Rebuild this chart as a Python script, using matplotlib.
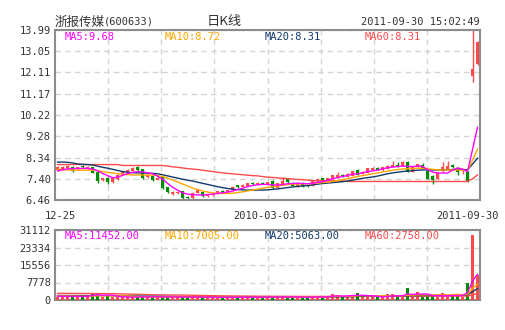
import matplotlib
matplotlib.use('Agg')
import matplotlib.pyplot as plt
import numpy as np

plt.rcParams['font.family'] = ['DejaVu Sans Mono', 'Noto Sans CJK SC']

# daily candles: open, close, high, low
opens = [7.80, 7.84, 7.86, 7.93, 7.84, 7.96, 7.88, 7.91, 7.68, 7.35,
         7.45, 7.25, 7.40, 7.62, 7.70, 7.75, 7.93, 7.82, 7.48, 7.52,
         7.36, 7.46, 7.02, 6.74, 6.76, 6.84, 6.60, 6.54, 6.79, 6.80,
         6.63, 6.66, 6.76, 6.87, 6.80, 6.90, 7.12, 7.04, 7.10, 7.20,
         7.16, 7.22, 7.18, 7.30, 6.99, 7.18, 7.39, 7.22, 7.10, 7.22,
         7.12, 7.10, 7.28, 7.42, 7.32, 7.38, 7.46, 7.58, 7.48, 7.54,
         7.80, 7.62, 7.66, 7.80, 7.88, 7.78, 7.84, 7.94, 8.00, 7.98,
         8.16, 7.72, 7.92, 8.00, 7.76, 7.54, 7.39, 7.74, 7.82, 8.02,
         7.89, 7.68, 7.72, 11.97, 12.47]
closes = [7.92, 7.93, 7.95, 7.74, 7.90, 7.90, 7.91, 7.67, 7.30, 7.42,
          7.24, 7.46, 7.56, 7.70, 7.79, 7.86, 7.78, 7.45, 7.56, 7.36,
          7.44, 6.99, 6.80, 6.82, 6.82, 6.55, 6.53, 6.78, 6.89, 6.62,
          6.72, 6.73, 6.86, 6.78, 6.90, 7.04, 7.04, 7.14, 7.20, 7.16,
          7.22, 7.18, 7.24, 6.99, 7.20, 7.30, 7.24, 7.10, 7.22, 7.08,
          7.07, 7.28, 7.38, 7.32, 7.42, 7.56, 7.56, 7.52, 7.62, 7.74,
          7.58, 7.72, 7.86, 7.88, 7.80, 7.92, 7.98, 8.00, 7.95, 8.16,
          7.72, 7.92, 8.04, 7.85, 7.40, 7.36, 7.70, 7.90, 7.96, 7.90,
          7.72, 7.71, 7.28, 12.26, 13.47]
highs = [7.96, 7.97, 7.99, 7.98, 7.94, 7.99, 7.95, 7.94, 7.70, 7.45,
         7.47, 7.48, 7.60, 7.75, 7.85, 7.90, 7.95, 7.84, 7.60, 7.55,
         7.47, 7.48, 7.04, 6.84, 6.85, 6.86, 6.62, 6.80, 6.92, 6.82,
         6.74, 6.75, 6.88, 6.89, 6.92, 7.06, 7.14, 7.16, 7.22, 7.26,
         7.25, 7.27, 7.27, 7.34, 7.22, 7.49, 7.41, 7.25, 7.24, 7.24,
         7.14, 7.30, 7.40, 7.44, 7.45, 7.58, 7.68, 7.63, 7.66, 7.76,
         7.82, 7.75, 7.88, 7.91, 7.92, 7.94, 8.00, 8.19, 8.15, 8.18,
         8.18, 7.94, 8.07, 8.10, 7.78, 7.56, 7.72, 8.13, 8.19, 8.04,
         7.91, 7.80, 7.74, 13.99, 13.50]
lows = [7.76, 7.80, 7.83, 7.68, 7.80, 7.86, 7.85, 7.64, 7.22, 7.28,
        7.18, 7.20, 7.36, 7.60, 7.68, 7.72, 7.75, 7.40, 7.44, 7.30,
        7.33, 6.95, 6.76, 6.70, 6.74, 6.50, 6.49, 6.47, 6.76, 6.58,
        6.61, 6.63, 6.74, 6.75, 6.78, 6.88, 7.01, 7.02, 7.08, 7.13,
        7.14, 7.15, 7.16, 6.96, 6.97, 7.16, 7.21, 7.07, 7.02, 7.05,
        7.04, 7.08, 7.26, 7.30, 7.30, 7.36, 7.44, 7.50, 7.46, 7.52,
        7.55, 7.60, 7.64, 7.78, 7.78, 7.76, 7.82, 7.92, 7.93, 7.96,
        7.70, 7.70, 7.90, 7.83, 7.38, 7.17, 7.37, 7.72, 7.80, 7.88,
        7.57, 7.62, 7.25, 11.69, 12.45]

ma5 = [7.75, 7.80, 7.84, 7.85, 7.86, 7.86, 7.86, 7.83, 7.76, 7.64,
       7.54, 7.45, 7.47, 7.55, 7.63, 7.68, 7.72, 7.70, 7.67, 7.62,
       7.52, 7.38, 7.20, 7.03, 6.90, 6.78, 6.72, 6.69, 6.69, 6.68,
       6.70, 6.72, 6.75, 6.78, 6.81, 6.86, 6.92, 6.98, 7.05, 7.10,
       7.14, 7.15, 7.15, 7.13, 7.12, 7.14, 7.18, 7.19, 7.20, 7.19,
       7.18, 7.20, 7.24, 7.27, 7.33, 7.40, 7.45, 7.50, 7.55, 7.60,
       7.62, 7.66, 7.72, 7.75, 7.78, 7.84, 7.89, 7.92, 7.94, 7.97,
       7.95, 7.94, 7.97, 7.94, 7.81, 7.70, 7.65, 7.66, 7.65, 7.78,
       7.88, 7.83, 7.72, 8.70, 9.68]
ma10 = [7.82, 7.80, 7.79, 7.78, 7.78, 7.78, 7.78, 7.78, 7.76, 7.72,
        7.68, 7.66, 7.63, 7.60, 7.58, 7.57, 7.57, 7.57, 7.57, 7.56,
        7.54, 7.50, 7.43, 7.35, 7.26, 7.17, 7.08, 6.99, 6.92, 6.86,
        6.81, 6.78, 6.76, 6.75, 6.75, 6.76, 6.79, 6.82, 6.86, 6.90,
        6.94, 6.98, 7.02, 7.05, 7.08, 7.11, 7.14, 7.16, 7.17, 7.17,
        7.18, 7.19, 7.21, 7.23, 7.25, 7.28, 7.32, 7.36, 7.40, 7.45,
        7.50, 7.54, 7.58, 7.62, 7.66, 7.70, 7.74, 7.78, 7.81, 7.83,
        7.85, 7.86, 7.87, 7.86, 7.84, 7.82, 7.80, 7.79, 7.79, 7.79,
        7.79, 7.78, 7.76, 8.22, 8.72]
ma20 = [8.14, 8.14, 8.13, 8.10, 8.06, 8.04, 8.03, 8.01, 7.96, 7.91,
        7.87, 7.82, 7.77, 7.72, 7.69, 7.67, 7.66, 7.66, 7.65, 7.64,
        7.62, 7.58, 7.53, 7.48, 7.43, 7.38, 7.34, 7.30, 7.25, 7.20,
        7.15, 7.10, 7.05, 7.01, 6.97, 6.94, 6.92, 6.91, 6.90, 6.90,
        6.90, 6.90, 6.91, 6.93, 6.95, 6.98, 7.01, 7.04, 7.06, 7.08,
        7.10, 7.13, 7.16, 7.19, 7.21, 7.23, 7.25, 7.27, 7.30, 7.34,
        7.38, 7.42, 7.45, 7.48, 7.52, 7.57, 7.62, 7.66, 7.69, 7.72,
        7.74, 7.76, 7.78, 7.79, 7.79, 7.79, 7.79, 7.80, 7.80, 7.81,
        7.81, 7.81, 7.80, 8.05, 8.31]
ma60 = [8.03, 8.03, 8.03, 8.03, 8.03, 8.03, 8.03, 8.03, 8.03, 8.03,
        8.03, 8.03, 8.03, 7.99, 7.99, 7.99, 7.99, 7.99, 7.99, 7.99,
        7.99, 7.99, 7.96, 7.93, 7.91, 7.88, 7.85, 7.83, 7.81, 7.78,
        7.75, 7.72, 7.69, 7.66, 7.64, 7.62, 7.60, 7.58, 7.56, 7.54,
        7.53, 7.50, 7.47, 7.46, 7.44, 7.42, 7.41, 7.39, 7.37, 7.36,
        7.34, 7.32, 7.31, 7.31, 7.31, 7.31, 7.31, 7.31, 7.28, 7.28,
        7.28, 7.28, 7.28, 7.28, 7.28, 7.28, 7.28, 7.28, 7.28, 7.28,
        7.28, 7.28, 7.28, 7.28, 7.28, 7.28, 7.28, 7.28, 7.28, 7.28,
        7.28, 7.28, 7.28, 7.40, 7.57]

volume = [1500, 1300, 1200, 2200, 1700, 1300, 1700, 3200, 2800, 1500,
          1800, 1300, 1200, 1300, 1200, 1300, 1500, 1600, 1200, 1500,
          1200, 1500, 1400, 1200, 1200, 1500, 1400, 1200, 1200, 1300,
          1200, 1200, 1200, 1200, 1200, 1300, 1200, 1200, 1200, 1300,
          1200, 1300, 1200, 1600, 1300, 1300, 1300, 1300, 1300, 1200,
          1000, 1500, 1800, 1200, 1200, 2600, 2300, 1300, 1500, 2200,
          3100, 1500, 1300, 1300, 1200, 1300, 2700, 2600, 1400, 1500,
          5300, 1500, 3500, 1400, 1800, 1600, 1500, 3000, 1500, 2400,
          1600, 1500, 7600, 28800, 11300]
vol_ma5 = [1700, 1650, 1550, 1600, 1580, 1540, 1620, 2020, 2340, 2100,
           2200, 2120, 1720, 1420, 1360, 1260, 1300, 1380, 1360, 1420,
           1400, 1400, 1360, 1360, 1300, 1360, 1340, 1300, 1300, 1320,
           1260, 1220, 1220, 1220, 1200, 1220, 1220, 1220, 1220, 1240,
           1240, 1240, 1240, 1320, 1320, 1340, 1340, 1360, 1360, 1280,
           1220, 1260, 1360, 1340, 1340, 1700, 1820, 1720, 1780, 1980,
           2080, 2120, 1920, 1880, 1680, 1320, 1600, 1820, 1840, 1900,
           2700, 2460, 2640, 2640, 2700, 1960, 1960, 1860, 1880, 2000,
           2020, 2000, 3240, 8380, 11452]
vol_ma10 = [1800, 1780, 1750, 1720, 1700, 1650, 1640, 1760, 1900, 1850,
            1870, 1840, 1820, 1830, 1780, 1640, 1550, 1400, 1390, 1390,
            1380, 1390, 1370, 1390, 1360, 1380, 1370, 1330, 1300, 1320,
            1310, 1280, 1260, 1260, 1250, 1240, 1230, 1220, 1210, 1230,
            1230, 1230, 1230, 1270, 1280, 1290, 1290, 1300, 1310, 1320,
            1300, 1300, 1300, 1300, 1310, 1460, 1590, 1550, 1560, 1660,
            1860, 1900, 1830, 1830, 1830, 1810, 1820, 1880, 1890, 1790,
            2150, 2150, 2250, 2260, 2310, 2330, 2210, 2250, 2260, 2350,
            2510, 2230, 2500, 5200, 7005]
vol_ma20 = [2000, 1990, 1980, 1970, 1960, 1950, 1950, 1960, 1980, 1970,
            1950, 1920, 1880, 1850, 1820, 1780, 1760, 1720, 1700, 1660,
            1620, 1590, 1560, 1530, 1490, 1480, 1460, 1440, 1420, 1400,
            1380, 1370, 1350, 1340, 1330, 1310, 1300, 1290, 1280, 1270,
            1260, 1250, 1250, 1250, 1260, 1260, 1260, 1260, 1260, 1260,
            1260, 1270, 1280, 1280, 1280, 1350, 1410, 1420, 1430, 1480,
            1580, 1600, 1610, 1620, 1640, 1660, 1720, 1740, 1720, 1740,
            1900, 1910, 1960, 1970, 2000, 2020, 2020, 2080, 2050, 2090,
            2170, 2180, 2310, 3700, 5063]
vol_ma60 = [2950, 2950, 2940, 2930, 2920, 2900, 2890, 2880, 2870, 2850,
            2830, 2800, 2770, 2700, 2640, 2580, 2520, 2460, 2400, 2350,
            2300, 2260, 2230, 2210, 2200, 2190, 2150, 2100, 2050, 2000,
            1960, 1920, 1880, 1850, 1820, 1800, 1780, 1760, 1740, 1720,
            1700, 1680, 1660, 1650, 1640, 1630, 1620, 1610, 1600, 1590,
            1580, 1580, 1590, 1590, 1600, 1610, 1620, 1620, 1630, 1640,
            1650, 1650, 1660, 1660, 1670, 1670, 1680, 1690, 1690, 1700,
            1710, 1710, 1720, 1720, 1730, 1730, 1730, 1740, 1740, 1740,
            1750, 1750, 1760, 2300, 2758]

price_ticks = [6.46, 7.40, 8.34, 9.28, 10.22, 11.17, 12.11, 13.05, 13.99]
price_labels = ['6.46', '7.40', '8.34', '9.28', '10.22', '11.17', '12.11', '13.05', '13.99']
vol_ticks = [0, 7778, 15556, 23334, 31112]
date_labels = ['12-25', '2010-03-03', '2011-09-30']

RED = '#ff4a4a'
GREEN = '#008c00'
C5, C10, C20, C60 = '#ff00ff', '#ffa500', '#123a6b', '#ff4a4a'
TXT = '#333333'
GRID = '#d4d4d4'

W, H = 505, 330
fig = plt.figure(figsize=(W / 100, H / 100), dpi=100)
fig.patch.set_facecolor('white')


def box(l, t, r, b):
    return [l / W, 1 - b / H, (r - l) / W, (b - t) / H]


def ftext(x, y, s, **kw):
    fig.text(x / W, 1 - y / H, s, **kw)


ax = fig.add_axes(box(55, 30, 480, 200))
axv = fig.add_axes(box(55, 230, 480, 300))

n = len(opens)
x = np.arange(n)
o, c = np.array(opens), np.array(closes)
cols = np.where(c >= o, RED, GREEN)

for a in (ax, axv):
    a.set_xlim(-0.5, n - 0.5)
    a.set_xticks([])
    for k in range(1, 8):
        a.axvline(-0.5 + k * n / 8, color=GRID, lw=1, ls=(0, (4, 3)), zorder=0)
    for s in a.spines.values():
        s.set_color('#8c8c8c')
        s.set_linewidth(1.5)
    a.tick_params(axis='y', length=0, pad=3, labelsize=7.5, labelcolor=TXT)
    a.grid(axis='y', color=GRID, lw=1, ls=(0, (4, 3)), zorder=0)
    a.set_axisbelow(True)

# price panel
ax.set_ylim(6.46, 13.99)
ax.set_yticks(price_ticks)
ax.set_yticklabels(price_labels)
ax.vlines(x, lows, highs, colors=cols, lw=1, zorder=2)
ax.bar(x, np.maximum(np.abs(c - o), 0.02), bottom=np.minimum(o, c),
       width=0.75, color=cols, lw=0, zorder=3)
for vals, col in ((ma60, C60), (ma20, C20), (ma10, C10), (ma5, C5)):
    ax.plot(x, vals, color=col, lw=1.0, zorder=4)

# volume panel, bars sit on top of the bottom frame line
axv.set_ylim(0, 31112)
axv.set_yticks(vol_ticks)
axv.set_yticklabels([str(v) for v in vol_ticks])
axv.bar(x, volume, width=0.78, color=cols, lw=0, zorder=2.6)
for vals, col in ((vol_ma60, C60), (vol_ma20, C20), (vol_ma10, C10), (vol_ma5, C5)):
    axv.plot(x, vals, color=col, lw=1.0, zorder=3)

# header
ftext(55, 22, '浙报传媒', family=['Noto Sans CJK SC'], fontsize=9, color=TXT, va='center')
ftext(104, 22, '(600633)', fontsize=7.5, color=TXT, va='center')
ftext(207, 21, '日K线', family=['Noto Sans CJK SC'], fontsize=9.5, color=TXT, va='center')
ftext(480, 22, '2011-09-30 15:02:49', fontsize=7.5, color=TXT, va='center', ha='right')

# MA legends
legend_x = [65, 165, 265, 365]
price_ma = ['MA5:9.68', 'MA10:8.72', 'MA20:8.31', 'MA60:8.31']
vol_ma = ['MA5:11452.00', 'MA10:7005.00', 'MA20:5063.00', 'MA60:2758.00']
for lx, s1, s2, col in zip(legend_x, price_ma, vol_ma, (C5, C10, C20, C60)):
    ftext(lx, 37, s1, fontsize=7.5, color=col, va='center')
    ftext(lx, 236, s2, fontsize=7.5, color=col, va='center')

# date axis
ftext(60, 216, date_labels[0], fontsize=7.5, color=TXT, va='center', ha='center')
ftext(264, 216, date_labels[1], fontsize=7.5, color=TXT, va='center', ha='center')
ftext(499, 216, date_labels[2], fontsize=7.5, color=TXT, va='center', ha='right')

fig.savefig('out.png', dpi=100)
